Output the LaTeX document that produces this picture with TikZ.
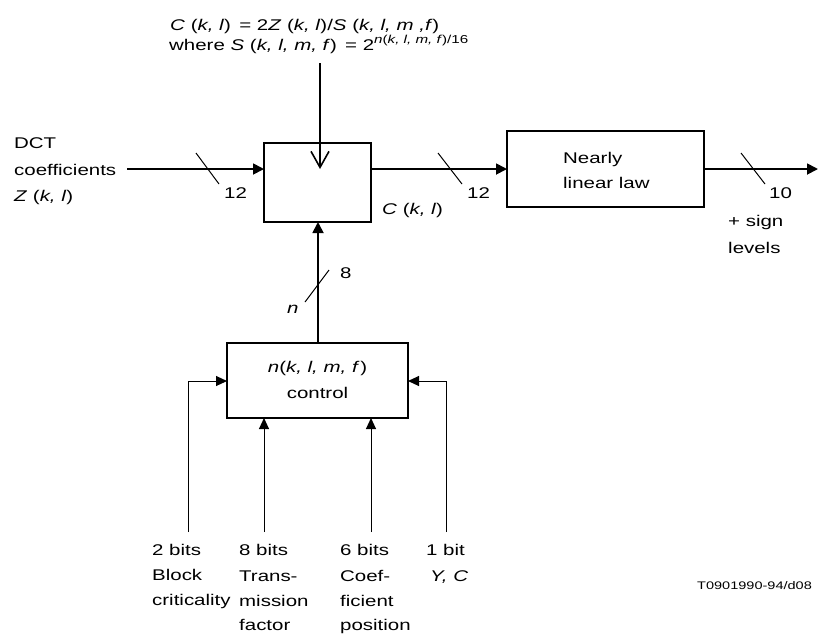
\documentclass[tikz,border=0pt]{standalone}
\usepackage{fontspec}
\setmainfont{Liberation Sans}[FakeStretch=1.32]
\usetikzlibrary{arrows.meta}
\begin{document}
\begin{tikzpicture}[x=1pt,y=-1pt,font=\fontsize{15.5}{18}\selectfont,
  box/.style={draw,line width=1.2pt,inner sep=0pt,outer sep=0pt},
  sig/.style={line width=1.8pt,-{Triangle[length=11pt,width=11pt]}},
  ctl/.style={line width=1pt,-{Triangle[length=11pt,width=10pt]}},
  slash/.style={line width=1pt},
  lbl/.style={anchor=base west,inner sep=0pt},
  lblc/.style={anchor=base,inner sep=0pt}]
\useasboundingbox (0,0) rectangle (819,633);

% boxes
\node[box,minimum width=107pt,minimum height=79pt] (main) at (317.5,182.5) {};
\node[box,minimum width=197pt,minimum height=76pt] (law) at (605.5,169) {};
\node[box,minimum width=181pt,minimum height=75pt] (ctrl) at (317.5,380.5) {};

% formula
\node[lbl] (f1) at (170,30) {\textit{C} (\textit{k, l})\, = 2\textit{Z} (\textit{k, l})/\textit{S} (\textit{k, l, m ,f})};
\node[lbl] (f2) at (169,50) {where \textit{S} (\textit{k, l, m, f})\, = 2\raisebox{7pt}{\fontsize{11.5}{12}\selectfont\textit{n}(\textit{k, l, m, f})/16}};

% top arrow
\coordinate (ftop) at (320,63);
\coordinate (fend) at (320,169);
\draw[line width=1.6pt,-{Straight Barb[length=16pt,width=18pt]}] (ftop) -- (fend);

% input
\coordinate (in) at (127,169);
\draw[sig] (in) -- (main.west |- in);
\node[lbl] (t1) at (14,148) {DCT};
\node[lbl] (t2) at (14,175) {coefficients};
\node[lbl] (t3) at (14,201) {\textit{Z} (\textit{k, l})};
\coordinate (s1a) at (196,153); \coordinate (s1b) at (219,184);
\draw[slash] (s1a) -- (s1b);
\node[lbl] (n12a) at (224,198) {12};

% main -> law
\draw[sig] (main.east |- in) -- (law.west |- in);
\coordinate (s2a) at (438,153); \coordinate (s2b) at (462,184);
\draw[slash] (s2a) -- (s2b);
\node[lbl] (n12b) at (467,198) {12};
\node[lbl] (ckl) at (382,214) {\textit{C} (\textit{k, l})};

% law text
\node[lbl] (l1) at (563,163) {Nearly};
\node[lbl] (l2) at (563,188) {linear law};

% output
\coordinate (out) at (818,169);
\draw[sig] (law.east |- in) -- (out);
\coordinate (s3a) at (741,153); \coordinate (s3b) at (765,184);
\draw[slash] (s3a) -- (s3b);
\node[lbl] (n10) at (769,198) {10};
\node[lbl] (o1) at (728,226) {+ sign};
\node[lbl] (o2) at (728,253) {levels};

% control -> main
\coordinate (cx) at (318,0);
\draw[sig] (ctrl.north -| cx) -- (main.south -| cx);
\coordinate (s4a) at (305,302); \coordinate (s4b) at (329,270);
\draw[slash] (s4a) -- (s4b);
\node[lbl] (n8) at (340,278) {8};
\node[lbl] (nn) at (287,313) {\textit{n}};

% control text
\node[lblc] (c1) at (317.5,372) {\textit{n}(\textit{k, l, m, f\,})};
\node[lblc] (c2) at (317.5,398) {control};

% control inputs
\coordinate (a1) at (188,532);
\coordinate (a2) at (264,532);
\coordinate (a3) at (371,532);
\coordinate (a4) at (446,532);
\coordinate (cy) at (0,381);
\draw[ctl] (a1) |- (ctrl.west |- cy);
\draw[ctl] (a2) -- (a2 |- ctrl.south);
\draw[ctl] (a3) -- (a3 |- ctrl.south);
\draw[ctl] (a4) |- (ctrl.east |- cy);

% bottom labels
\node[lbl] (b1) at (152,555) {2 bits};
\node[lbl] (b2) at (152,580) {Block};
\node[lbl] (b3) at (152,605) {criticality};
\node[lbl] (b4) at (239,555) {8 bits};
\node[lbl] (b5) at (239,581) {Trans-};
\node[lbl] (b6) at (239,606) {mission};
\node[lbl] (b7) at (239,630) {factor};
\node[lbl] (b8) at (340,555) {6 bits};
\node[lbl] (b9) at (340,581) {Coef-};
\node[lbl] (b10) at (340,606) {ficient};
\node[lbl] (b11) at (340,630) {position};
\node[lbl] (b12) at (426,555) {1 bit};
\node[lbl] (b13) at (430,581) {\textit{Y, C}};

\node[lbl,font=\fontsize{11}{13}\selectfont] (tag) at (697,589) {T0901990-94/d08};
\end{tikzpicture}
\end{document}
